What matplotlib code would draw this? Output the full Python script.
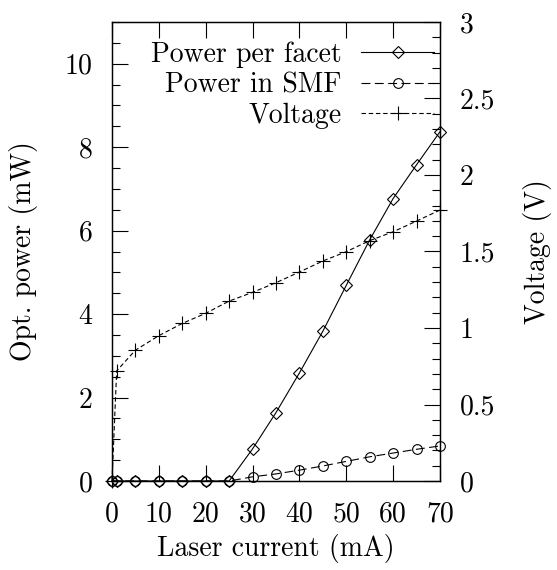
import matplotlib
matplotlib.use("Agg")
import matplotlib.pyplot as plt
from matplotlib.ticker import MultipleLocator, FormatStrFormatter

# Laser current sweep (mA)
current = [0, 1, 5, 10, 15, 20, 25, 30, 35, 40, 45, 50, 55, 60, 65, 70]

# Optical power (mW)
power_facet = [0, 0, 0, 0, 0, 0, 0, 0.77, 1.64, 2.59, 3.59, 4.69, 5.78, 6.77, 7.58, 8.37]
power_smf = [0, 0, 0, 0, 0, 0, 0, 0.10, 0.17, 0.26, 0.36, 0.47, 0.58, 0.67, 0.76, 0.84]

# Diode voltage (V)
voltage = [0, 0.72, 0.855, 0.95, 1.03, 1.096, 1.176, 1.233, 1.296, 1.366, 1.438, 1.499,
           1.571, 1.629, 1.699, 1.771]

plt.rcParams['font.family'] = 'cmr10'
plt.rcParams['mathtext.fontset'] = 'cm'
plt.rcParams['axes.unicode_minus'] = False
plt.rcParams['font.size'] = 20

fig = plt.figure(figsize=(5.57, 5.70), dpi=100)
ax = fig.add_axes([112/557, 89/570, 328/557, 459/570])
ax2 = ax.twinx()

lw = 0.8
l1, = ax.plot(current, power_facet, color='black', lw=lw, ls='-',
              marker='D', ms=6.5, mfc='none', mec='black', mew=lw,
              label='Power per facet', clip_on=False)
l2, = ax.plot(current, power_smf, color='black', lw=lw, ls=(0, (8, 4)),
              marker='o', ms=7, mfc='none', mec='black', mew=lw,
              label='Power in SMF', clip_on=False)
l3, = ax2.plot(current, voltage, color='black', lw=lw, ls=(0, (4, 2.5)),
               marker='+', ms=10, mec='black', mew=lw,
               label='Voltage', clip_on=False)

ax.set_xlim(0, 70)
ax.set_ylim(0, 11)
ax2.set_ylim(0, 3)

ax.xaxis.set_major_locator(MultipleLocator(10))
ax.yaxis.set_major_locator(MultipleLocator(2))
ax.yaxis.set_minor_locator(MultipleLocator(0.5))
ax2.yaxis.set_major_locator(MultipleLocator(0.5))
ax2.yaxis.set_minor_locator(MultipleLocator(0.1))
ax2.yaxis.set_major_formatter(FormatStrFormatter('%g'))

ax.tick_params(axis='x', which='major', direction='in', length=11.5, width=0.8,
               top=True, pad=14.5)
ax.tick_params(axis='y', which='major', direction='in', length=11.5, width=0.8,
               right=False, pad=14)
ax.tick_params(axis='y', which='minor', direction='in', length=5.8, width=0.8,
               right=False)
ax2.tick_params(axis='y', which='major', direction='in', length=11.5, width=0.8,
                pad=14)
ax2.tick_params(axis='y', which='minor', direction='in', length=5.8, width=0.8)

for a in (ax, ax2):
    for s in a.spines.values():
        s.set_linewidth(0.9)

ax.set_xlabel('Laser current (mA)', labelpad=5)
ax.set_ylabel('Opt. power (mW)', labelpad=19)
ax2.set_ylabel('Voltage (V)', labelpad=20)

ax2.legend(handles=[l1, l2, l3], loc='upper right', bbox_to_anchor=(1.0, 0.97),
           frameon=False, markerfirst=False, handlelength=2.65,
           handletextpad=0.7, labelspacing=0.15, borderpad=0.2,
           borderaxespad=0.0)

fig.savefig('out.png', dpi=100)
